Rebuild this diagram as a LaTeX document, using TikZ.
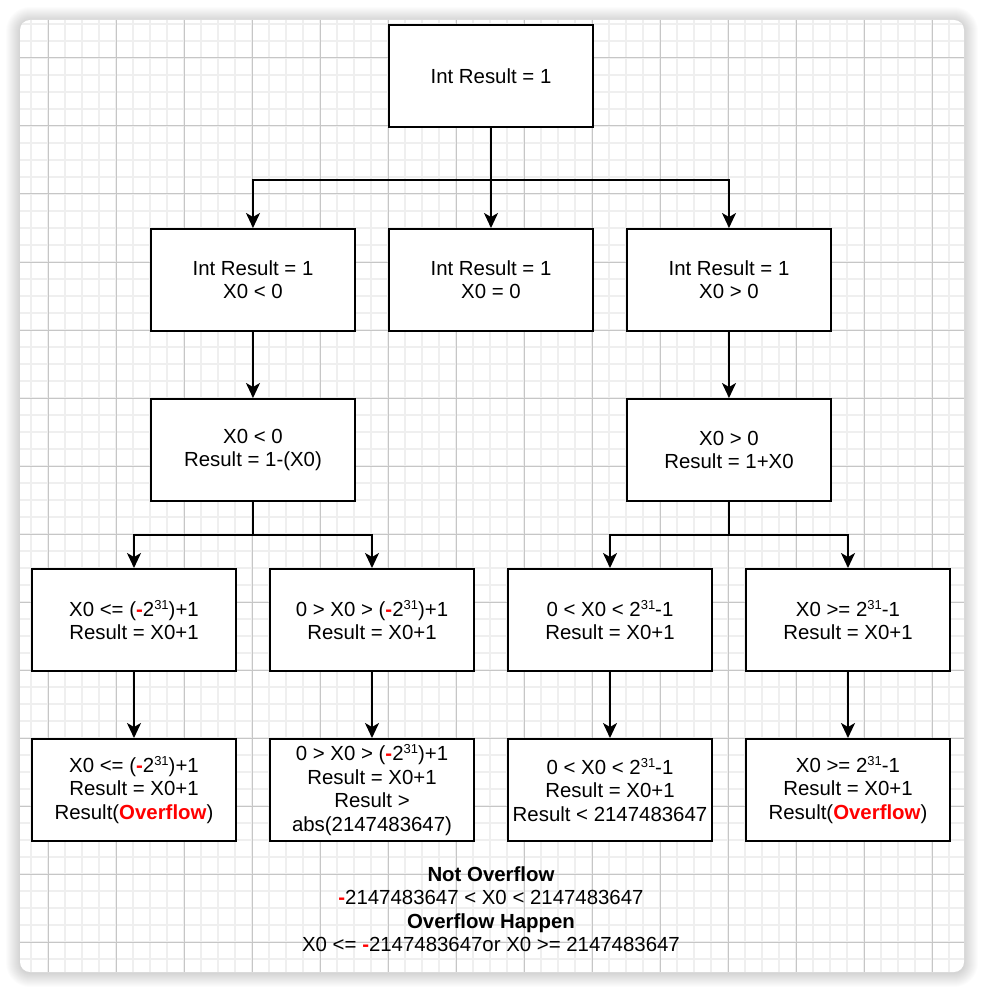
\documentclass[tikz,border=0pt]{standalone}
\usepackage{fontspec}
\setmainfont{Liberation Sans}
\usepackage{tikz}
\usetikzlibrary{arrows.meta}

\definecolor{minorgrid}{HTML}{EFEFEF}
\definecolor{majorgrid}{HTML}{C6C6C6}
\newcommand{\twoexp}{2\raisebox{7pt}{\fontsize{13}{13}\selectfont 31}}
\newcommand{\rminus}{\textcolor{red}{\textbf{-}}}
\newcommand{\rover}{\textcolor{red}{\textbf{Overflow}}}

\tikzset{
	box/.style={draw, line width=2pt, minimum width=204pt, minimum height=102pt,
		inner sep=0pt, align=center, font=\fontsize{20.4}{23.4}\selectfont},
	edge/.style={line width=2pt, -{Stealth[length=15pt,width=14pt,inset=4pt]}},
	plain/.style={line width=2pt}
}

\begin{document}
\begin{tikzpicture}[x=1pt,y=-1pt]
	\useasboundingbox (0,0) rectangle (984,992);

	%Panel with its shadow
	\foreach \s in {1,...,14}
		\fill [black, opacity=0.012, rounded corners={10+\s}] ({20-\s},{21-\s}) rectangle ({964+\s},{973+\s});
	\fill [white, rounded corners=10] (20,20) rectangle (964,972);

	%Grid
	\begin{scope}
		\clip [rounded corners=10] (20,20) rectangle (964,972);
		\foreach \gx in {14,31,...,980}
			\draw [minorgrid, line width=2pt] (\gx,20) -- (\gx,972);
		\foreach \gy in {24,41,...,972}
			\draw [minorgrid, line width=2pt] (20,\gy) -- (964,\gy);
		\foreach \gx in {48,116,...,980}
			\draw [majorgrid, line width=1pt] (\gx,20) -- (\gx,972);
		\foreach \gy in {58,126,...,972}
			\draw [majorgrid, line width=1pt] (20,\gy) -- (964,\gy);
	\end{scope}

	%Start
	\node [box, fill=white] (init) at (491,76) {Int Result = 1};

	%Sign of X0
	\node [box, fill=white] (neg) at (253,280) {Int Result = 1\\X0 < 0};
	\node [box, fill=white] (zero) at (491,280) {Int Result = 1\\X0 = 0};
	\node [box, fill=white] (pos) at (729,280) {Int Result = 1\\X0 > 0};

	%Result
	\node [box, fill=white] (negres) at (253,450) {X0 < 0\\Result = 1-(X0)};
	\node [box, fill=white] (posres) at (729,450) {X0 > 0\\Result = 1+X0};

	%Ranges
	\node [box, fill=white] (negmin) at (134,620) {X0 <= (\rminus\twoexp)+1\\Result = X0+1};
	\node [box, fill=white] (negok) at (372,620) {0 > X0 > (\rminus\twoexp)+1\\Result = X0+1};
	\node [box, fill=white] (posok) at (610,620) {0 < X0 < \twoexp-1\\Result = X0+1};
	\node [box, fill=white] (posmax) at (848,620) {X0 >= \twoexp-1\\Result = X0+1};

	%Outcomes
	\node [box, fill=white] (negminout) at (134,790) {X0 <= (\rminus\twoexp)+1\\Result = X0+1\\Result(\rover)};
	\node [box, fill=white] (negokout) at (372,790) {0 > X0 > (\rminus\twoexp)+1\\Result = X0+1\\Result >\\abs(2147483647)};
	\node [box, fill=white] (posokout) at (610,790) {0 < X0 < \twoexp-1\\Result = X0+1\\Result < 2147483647};
	\node [box, fill=white] (posmaxout) at (848,790) {X0 >= \twoexp-1\\Result = X0+1\\Result(\rover)};

	%Summary
	\node [align=center, font=\fontsize{20.4}{23.5}\selectfont] (summary) at (491,909)
	{\textbf{Not Overflow}\\\rminus2147483647 < X0 < 2147483647\\\textbf{Overflow Happen}\\X0 <= \rminus2147483647or X0 >= 2147483647};

	%Connectors
	\coordinate (fork1) at (491,180);
	\coordinate (fork2) at (253,535);
	\coordinate (fork3) at (729,535);
	\draw [plain] (init.south) -- (fork1);
	\draw [edge] (fork1) -| (neg.north);
	\draw [edge] (fork1) -- (zero.north);
	\draw [edge] (fork1) -| (pos.north);
	\draw [edge] (neg) -- (negres);
	\draw [edge] (pos) -- (posres);
	\draw [plain] (negres.south) -- (fork2);
	\draw [edge] (fork2) -| (negmin.north);
	\draw [edge] (fork2) -| (negok.north);
	\draw [plain] (posres.south) -- (fork3);
	\draw [edge] (fork3) -| (posok.north);
	\draw [edge] (fork3) -| (posmax.north);
	\draw [edge] (negmin) -- (negminout);
	\draw [edge] (negok) -- (negokout);
	\draw [edge] (posok) -- (posokout);
	\draw [edge] (posmax) -- (posmaxout);
\end{tikzpicture}
\end{document}
